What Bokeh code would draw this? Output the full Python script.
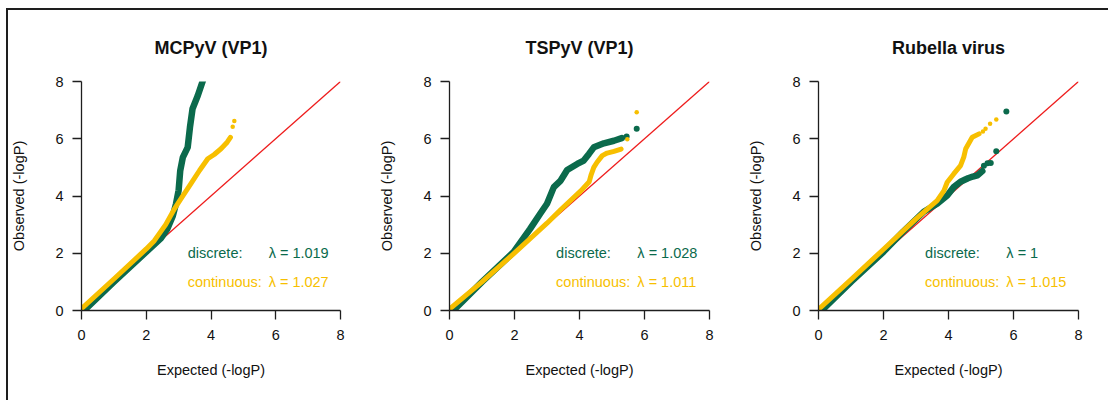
from bokeh.plotting import figure
from bokeh.layouts import row
from bokeh.models import Range1d, FixedTicker
from bokeh.core.properties import value
from bokeh.embed import file_html
from bokeh.resources import INLINE

# ---------------- data ----------------
titles = ["MCPyV (VP1)", "TSPyV (VP1)", "Rubella virus"]
ticks = [0, 2, 4, 6, 8]
legend_labels = ["discrete:", "continuous:"]
lambda_discrete = ["1.019", "1.028", "1"]
lambda_continuous = ["1.027", "1.011", "1.015"]

# MCPyV (VP1)
mcpyv_disc_x = [0.08, 1.0, 2.0, 2.45, 2.65, 2.82, 2.92, 3.0, 3.05, 3.13, 3.28, 3.35, 3.43, 3.59, 3.74, 3.80]
mcpyv_disc_y = [0.0, 1.0, 2.05, 2.52, 2.85, 3.30, 3.73, 4.20, 4.89, 5.35, 5.70, 6.40, 7.05, 7.50, 8.0, 8.2]
mcpyv_disc_tail_x = []
mcpyv_disc_tail_y = []
mcpyv_cont_x = [0.0, 1.0, 2.0, 2.25, 2.6, 2.87, 3.1, 3.38, 3.65, 3.9, 4.1, 4.31, 4.5, 4.6]
mcpyv_cont_y = [0.06, 1.1, 2.15, 2.44, 3.0, 3.55, 3.95, 4.43, 4.9, 5.3, 5.45, 5.65, 5.88, 6.05]
mcpyv_cont_tail_x = [4.67, 4.72]
mcpyv_cont_tail_y = [6.42, 6.62]

# TSPyV (VP1)
tspyv_disc_x = [0.12, 1.0, 1.97, 2.48, 2.79, 3.0, 3.21, 3.42, 3.62, 3.93, 4.13, 4.29, 4.44, 4.75, 5.06, 5.30]
tspyv_disc_y = [0.0, 1.0, 2.04, 2.85, 3.38, 3.73, 4.31, 4.54, 4.91, 5.12, 5.24, 5.47, 5.70, 5.84, 5.93, 6.02]
tspyv_disc_tail_x = [5.45, 5.76]
tspyv_disc_tail_y = [6.08, 6.35]
tspyv_cont_x = [0.0, 1.0, 1.97, 3.0, 3.42, 4.04, 4.30, 4.36, 4.44, 4.54, 4.70, 4.85, 5.06, 5.28]
tspyv_cont_y = [0.05, 1.0, 1.98, 3.05, 3.52, 4.18, 4.50, 4.75, 5.0, 5.18, 5.41, 5.50, 5.56, 5.64]
tspyv_cont_tail_x = [5.47, 5.76]
tspyv_cont_tail_y = [5.98, 6.93]

# Rubella virus
rub_disc_x = [0.1, 1.0, 2.0, 2.6, 3.24, 3.65, 3.96, 4.16, 4.37, 4.6, 4.75, 4.89, 5.04]
rub_disc_y = [0.0, 1.0, 2.05, 2.75, 3.45, 3.73, 4.02, 4.31, 4.50, 4.62, 4.68, 4.72, 4.87]
rub_disc_tail_x = [5.09, 5.20, 5.30, 5.47, 5.78]
rub_disc_tail_y = [5.06, 5.14, 5.15, 5.56, 6.95]
rub_cont_x = [0.0, 1.0, 2.01, 3.0, 3.65, 3.86, 3.96, 4.16, 4.37, 4.47, 4.53, 4.73, 4.94]
rub_cont_y = [0.04, 1.08, 2.15, 3.2, 3.84, 4.19, 4.48, 4.77, 5.06, 5.36, 5.65, 6.05, 6.17]
rub_cont_tail_x = [5.06, 5.14, 5.28, 5.47]
rub_cont_tail_y = [6.25, 6.35, 6.52, 6.67]

panels = [
    (mcpyv_disc_x, mcpyv_disc_y, mcpyv_disc_tail_x, mcpyv_disc_tail_y,
     mcpyv_cont_x, mcpyv_cont_y, mcpyv_cont_tail_x, mcpyv_cont_tail_y),
    (tspyv_disc_x, tspyv_disc_y, tspyv_disc_tail_x, tspyv_disc_tail_y,
     tspyv_cont_x, tspyv_cont_y, tspyv_cont_tail_x, tspyv_cont_tail_y),
    (rub_disc_x, rub_disc_y, rub_disc_tail_x, rub_disc_tail_y,
     rub_cont_x, rub_cont_y, rub_cont_tail_x, rub_cont_tail_y),
]

# ---------------- style ----------------
GREEN = "#0b6a4c"
GOLD = "#f7bf00"
RED = "#ee1c1c"
AXIS = "#1e1e1e"
FONT = "Liberation Sans"
FS = "14.5px"

FRAME_W = 260
FRAME_H = 229
TOP = 71
HEIGHT = 390


def make_panel(i, width, left):
    dx, dy, dtx, dty, cx, cy, ctx, cty = panels[i]
    p = figure(width=width, height=HEIGHT,
               x_range=Range1d(0, 8), y_range=Range1d(0, 8),
               output_backend="svg", toolbar_location=None,
               min_border_left=left, min_border_right=width - left - FRAME_W,
               min_border_top=TOP, min_border_bottom=HEIGHT - TOP - FRAME_H,
               title=titles[i])
    p.title.text_font = FONT
    p.title.text_font_size = "18px"
    p.title.text_font_style = "bold"
    p.title.text_color = "#111111"
    p.title.align = "center"
    p.title.standoff = 47
    p.outline_line_color = None
    p.xgrid.visible = False
    p.ygrid.visible = False
    p.background_fill_color = "white"
    p.border_fill_color = "white"

    for ax in (p.xaxis[0], p.yaxis[0]):
        ax.ticker = FixedTicker(ticks=ticks)
        ax.minor_tick_line_color = None
        ax.major_tick_in = 0
        ax.major_tick_out = 9
        ax.axis_line_color = AXIS
        ax.axis_line_width = 1.3
        ax.major_tick_line_color = AXIS
        ax.major_tick_line_width = 1.3
        ax.major_label_text_font = FONT
        ax.major_label_text_font_size = FS
        ax.major_label_text_color = "#111111"
        ax.axis_label_text_font = FONT
        ax.axis_label_text_font_size = FS
        ax.axis_label_text_font_style = "normal"
        ax.axis_label_text_color = "#111111"
    p.xaxis.axis_label = "Expected (-logP)"
    p.yaxis.axis_label = "Observed (-logP)"
    p.xaxis.major_label_standoff = 10
    p.xaxis.axis_label_standoff = 19
    p.yaxis.major_label_standoff = 9
    p.yaxis.axis_label_standoff = 25

    # reference line y = x
    p.line(x=[ticks[0], ticks[-1]], y=[ticks[0], ticks[-1]], line_color=RED, line_width=1.3)

    # discrete (green)
    p.line(x=dx, y=dy, line_color=GREEN, line_width=6.5, line_cap="round", line_join="round")
    if dtx:
        p.scatter(x=dtx, y=dty, size=6, fill_color=GREEN, line_color=None)
    # continuous (gold)
    p.line(x=cx, y=cy, line_color=GOLD, line_width=5, line_cap="round", line_join="round")
    if ctx:
        p.scatter(x=ctx, y=cty, size=4.5, fill_color=GOLD, line_color=None)

    # legend texts
    p.text(x=[3.28], y=[2.0], text=[legend_labels[0]], text_color=GREEN,
           text_font=value(FONT), text_font_size=FS, text_baseline="middle", text_align="left")
    p.text(x=[5.78], y=[2.0], text=["λ = " + lambda_discrete[i]], text_color=GREEN,
           text_font=value(FONT), text_font_size=FS, text_baseline="middle", text_align="left")
    p.text(x=[3.28], y=[1.0], text=[legend_labels[1]], text_color=GOLD,
           text_font=value(FONT), text_font_size=FS, text_baseline="middle", text_align="left")
    p.text(x=[5.78], y=[1.0], text=["λ = " + lambda_continuous[i]], text_color=GOLD,
           text_font=value(FONT), text_font_size=FS, text_baseline="middle", text_align="left")
    return p


p1 = make_panel(0, 361, 72)
p2 = make_panel(1, 369, 80)
p3 = make_panel(2, 370, 80)

layout = row(p1, p2, p3, margin=(8, 0, 0, 6),
             styles={"border-top": "2px solid #1e1e1e", "border-left": "2px solid #1e1e1e",
                     "background-color": "white"})

open("out.html", "w").write(file_html(layout, INLINE))
